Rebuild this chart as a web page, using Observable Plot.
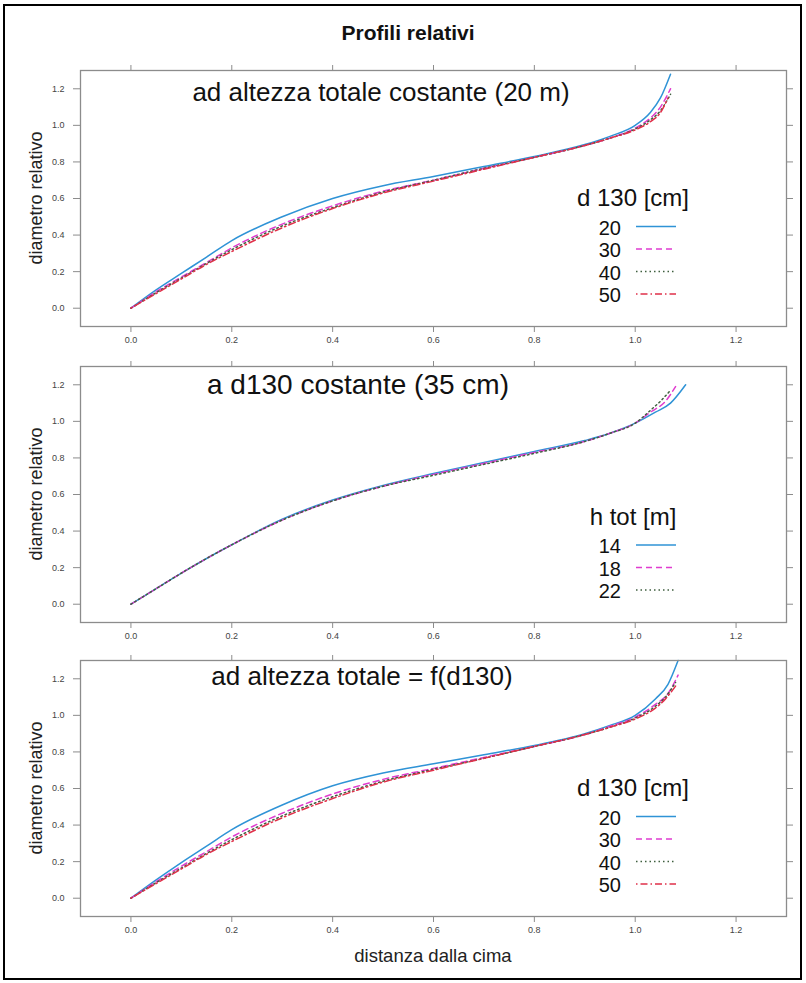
<!DOCTYPE html>
<html>
<head>
<meta charset="utf-8">
<script src="https://cdn.jsdelivr.net/npm/d3@7"></script>
<script src="https://cdn.jsdelivr.net/npm/@observablehq/plot@0.6"></script>
<style>
  body { margin: 0; background: #fff; font-family: "Liberation Sans", Arial, sans-serif; }
  #page { position: relative; width: 806px; height: 983px; overflow: hidden; background: #fff; }
</style>
</head>
<body>
<div id="page"></div>
<script>
// ---------------- DATA ----------------
const xTicks = [0, 0.2, 0.4, 0.6, 0.8, 1.0, 1.2];
const yTicks = [0, 0.2, 0.4, 0.6, 0.8, 1.0, 1.2];

// common relative-distance grid (distanza dalla cima)
const xGrid = [0, 0.05, 0.1, 0.15, 0.2, 0.3, 0.4, 0.5, 0.6, 0.7, 0.8, 0.9, 0.95, 1.0];

// Panel 1: ad altezza totale costante (20 m) — d130 = 20, 30, 40, 50 cm
const p1Labels = ["20", "30", "40", "50"];
const p1_20 = [0, 0.10, 0.19, 0.28, 0.37, 0.50, 0.60, 0.67, 0.72, 0.775, 0.83, 0.895, 0.94, 1.00];
const p1_30 = [0, 0.09, 0.17, 0.25, 0.33, 0.46, 0.56, 0.64, 0.70, 0.765, 0.825, 0.89, 0.93, 0.985];
const p1_40 = [0, 0.085, 0.165, 0.245, 0.32, 0.45, 0.55, 0.635, 0.70, 0.765, 0.825, 0.89, 0.93, 0.98];
const p1_50 = [0, 0.08, 0.16, 0.24, 0.31, 0.44, 0.545, 0.63, 0.695, 0.76, 0.825, 0.89, 0.93, 0.975];
const p1_20_tailX = [1.03, 1.05, 1.07], p1_20_tailY = [1.07, 1.15, 1.28];
const p1_30_tailX = [1.03, 1.05, 1.07], p1_30_tailY = [1.04, 1.10, 1.20];
const p1_40_tailX = [1.03, 1.05, 1.07], p1_40_tailY = [1.03, 1.08, 1.17];
const p1_50_tailX = [1.03, 1.05, 1.065], p1_50_tailY = [1.02, 1.07, 1.15];

// Panel 2: a d130 costante (35 cm) — h tot = 14, 18, 22 m
const p2Labels = ["14", "18", "22"];
const p2_14 = [0, 0.085, 0.17, 0.25, 0.325, 0.465, 0.57, 0.65, 0.715, 0.775, 0.835, 0.895, 0.935, 0.99];
const p2_18 = [0, 0.085, 0.17, 0.25, 0.325, 0.46, 0.565, 0.645, 0.71, 0.77, 0.83, 0.89, 0.935, 0.99];
const p2_22 = [0, 0.085, 0.17, 0.25, 0.325, 0.46, 0.565, 0.645, 0.705, 0.765, 0.825, 0.89, 0.935, 0.99];
const p2_14_tailX = [1.04, 1.07, 1.10], p2_14_tailY = [1.05, 1.10, 1.20];
const p2_18_tailX = [1.03, 1.06, 1.08], p2_18_tailY = [1.05, 1.11, 1.19];
const p2_22_tailX = [1.03, 1.05, 1.07], p2_22_tailY = [1.06, 1.11, 1.17];

// Panel 3: ad altezza totale = f(d130) — d130 = 20, 30, 40, 50 cm
const p3Labels = ["20", "30", "40", "50"];
const p3_20 = [0, 0.10, 0.195, 0.285, 0.375, 0.51, 0.615, 0.685, 0.735, 0.785, 0.835, 0.90, 0.945, 1.00];
const p3_30 = [0, 0.09, 0.175, 0.255, 0.335, 0.465, 0.57, 0.65, 0.71, 0.77, 0.83, 0.895, 0.94, 0.99];
const p3_40 = [0, 0.085, 0.165, 0.245, 0.32, 0.45, 0.555, 0.64, 0.705, 0.765, 0.83, 0.895, 0.935, 0.985];
const p3_50 = [0, 0.08, 0.16, 0.24, 0.31, 0.44, 0.545, 0.635, 0.70, 0.765, 0.83, 0.895, 0.935, 0.98];
const p3_20_tailX = [1.04, 1.065, 1.085], p3_20_tailY = [1.09, 1.17, 1.30];
const p3_30_tailX = [1.04, 1.065, 1.085], p3_30_tailY = [1.06, 1.12, 1.22];
const p3_40_tailX = [1.04, 1.06, 1.08], p3_40_tailY = [1.05, 1.10, 1.18];
const p3_50_tailX = [1.04, 1.06, 1.08], p3_50_tailY = [1.04, 1.09, 1.16];

// ---------------- STYLE ----------------
const colors = ["#2f93d6", "#e03ccf", "#3f5f3f", "#e0304a"];
const dashes = [null, "6,4", "1.5,3", "1.5,3,7,3"];
const gray = "#8c8c8c";
const FONT = "Liberation Sans, Arial, Helvetica, sans-serif";

function rows(ys, tx, ty) {
  const r = xGrid.map((x, i) => ({x, y: ys[i]}));
  tx.forEach((x, i) => r.push({x, y: ty[i]}));
  return r;
}

const panels = [
  {
    boxTop: 70, title: "ad altezza totale costante (20 m)", titleX: 381, titleDy: 22, titleSize: 26,
    legendTitle: "d 130 [cm]", labels: p1Labels,
    series: [rows(p1_20, p1_20_tailX, p1_20_tailY), rows(p1_30, p1_30_tailX, p1_30_tailY),
             rows(p1_40, p1_40_tailX, p1_40_tailY), rows(p1_50, p1_50_tailX, p1_50_tailY)]
  },
  {
    boxTop: 366, title: "a d130 costante (35 cm)", titleX: 358, titleDy: 18, titleSize: 28,
    legendTitle: "h tot [m]", labels: p2Labels,
    series: [rows(p2_14, p2_14_tailX, p2_14_tailY), rows(p2_18, p2_18_tailX, p2_18_tailY),
             rows(p2_22, p2_22_tailX, p2_22_tailY)]
  },
  {
    boxTop: 660, title: "ad altezza totale = f(d130)", titleX: 362, titleDy: 16, titleSize: 26,
    legendTitle: "d 130 [cm]", labels: p3Labels,
    series: [rows(p3_20, p3_20_tailX, p3_20_tailY), rows(p3_30, p3_30_tailX, p3_30_tailY),
             rows(p3_40, p3_40_tailX, p3_40_tailY), rows(p3_50, p3_50_tailX, p3_50_tailY)]
  }
];

const page = document.getElementById("page");
const BOX_H = 256, MT = 20;

panels.forEach((p, pi) => {
  const mb = pi === 2 ? 60 : 35;
  const noText = () => "";
  const plot = Plot.plot({
    width: 806,
    height: MT + BOX_H + mb,
    marginLeft: 80, marginRight: 20, marginTop: MT, marginBottom: mb,
    x: {domain: [-0.1, 1.3]},
    y: {domain: [-0.1, 1.3]},
    style: {background: "none", overflow: "visible", fontFamily: FONT},
    marks: [
      Plot.axisX(xTicks, {anchor: "bottom", tickSize: 6, tickPadding: 4, tickFormat: d3.format(".1f"),
        fontSize: 9, stroke: gray, fill: "#444", label: null}),
      Plot.axisX(xTicks, {anchor: "top", tickSize: 6, tickFormat: noText, stroke: gray, label: null}),
      Plot.axisY(yTicks, {anchor: "left", tickSize: 7, tickPadding: 9, tickFormat: d3.format(".1f"),
        fontSize: 9, stroke: gray, fill: "#444", label: null}),
      Plot.axisY(yTicks, {anchor: "right", tickSize: 6, tickFormat: noText, stroke: gray, label: null}),
      ...p.series.map((s, i) => Plot.line(s, {
        x: "x", y: "y", stroke: colors[i], strokeWidth: 1.5,
        strokeDasharray: dashes[i], curve: "monotone-x"
      })),
      Plot.frame({stroke: gray, strokeWidth: 1.3})
    ]
  });
  plot.style.position = "absolute";
  plot.style.left = "0px";
  plot.style.top = (p.boxTop - MT) + "px";
  page.appendChild(plot);
});

// ---------------- OVERLAY: titles, legends, axis labels, border ----------------
const ov = d3.select(page).append("svg")
  .attr("width", 806).attr("height", 983)
  .style("position", "absolute").style("left", "0px").style("top", "0px")
  .style("pointer-events", "none")
  .style("font-family", FONT);

ov.append("rect").attr("x", 4).attr("y", 5).attr("width", 797).attr("height", 974)
  .attr("fill", "none").attr("stroke", "#000").attr("stroke-width", 2);

ov.append("text").attr("x", 408).attr("y", 32).attr("text-anchor", "middle")
  .attr("dominant-baseline", "central").attr("font-size", 21).attr("font-weight", "bold")
  .attr("fill", "#111").text("Profili relativi");

panels.forEach((p, pi) => {
  const top = p.boxTop;
  // panel title
  ov.append("text").attr("x", p.titleX).attr("y", top + p.titleDy)
    .attr("text-anchor", "middle").attr("dominant-baseline", "central")
    .attr("font-size", p.titleSize).attr("fill", "#111").text(p.title);
  // y axis label
  ov.append("text").attr("transform", `translate(36,${top + 128}) rotate(-90)`)
    .attr("text-anchor", "middle").attr("dominant-baseline", "central")
    .attr("font-size", 18).attr("fill", "#222").text("diametro relativo");
  // legend (bottom aligned)
  const n = p.labels.length;
  const step = 22.5;
  const lastY = top + 224;
  const entryY = p.labels.map((_, i) => lastY - (n - 1 - i) * step);
  ov.append("text").attr("x", 633).attr("y", entryY[0] - 29)
    .attr("text-anchor", "middle").attr("dominant-baseline", "central")
    .attr("font-size", 24).attr("fill", "#111").text(p.legendTitle);
  p.labels.forEach((lab, i) => {
    ov.append("text").attr("x", 621).attr("y", entryY[i] + 1)
      .attr("text-anchor", "end").attr("dominant-baseline", "central")
      .attr("font-size", 20).attr("fill", "#111").text(lab);
    ov.append("line").attr("x1", 636).attr("x2", 676).attr("y1", entryY[i]).attr("y2", entryY[i])
      .attr("stroke", colors[i]).attr("stroke-width", 1.5)
      .attr("stroke-dasharray", dashes[i]);
  });
});

ov.append("text").attr("x", 433).attr("y", 955).attr("text-anchor", "middle")
  .attr("dominant-baseline", "central").attr("font-size", 18.5).attr("fill", "#222")
  .text("distanza dalla cima");
</script>
</body>
</html>
